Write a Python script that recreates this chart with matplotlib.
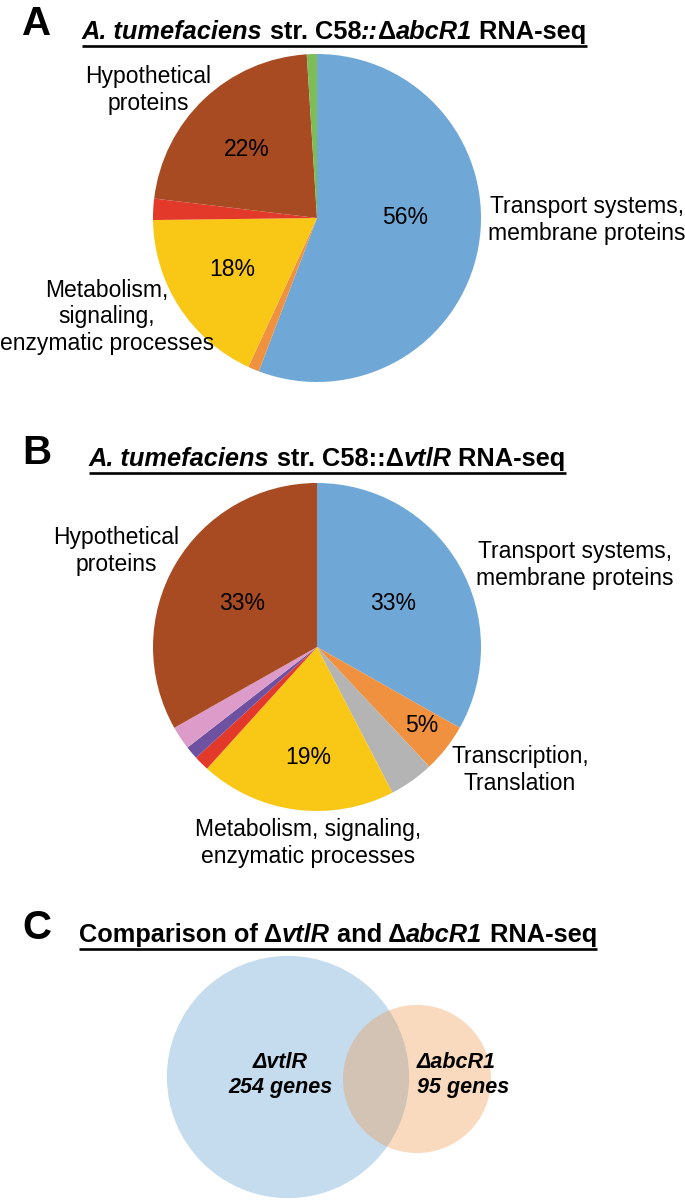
import matplotlib
matplotlib.use("Agg")
import matplotlib.pyplot as plt
from matplotlib.patches import Circle
import numpy as np

plt.rcParams['font.family'] = ['Liberation Sans', 'DejaVu Sans']

# panel A: C58::deltaabcR1, clockwise from 12 o'clock
a_values = [56, 1.1, 18, 2.1, 22.2, 1.0]
a_colors = ["#6FA8D6", "#F0913F", "#F9C716", "#E3392A", "#A84A22", "#7DBD58"]
a_show = [True, False, True, False, True, False]

# panel B: C58::deltavtlR
b_values = [33.2, 4.8, 4.4, 19.3, 1.5, 1.3, 2.3, 33.2]
b_colors = ["#6FA8D6", "#F0913F", "#B4B4B4", "#F9C716", "#E3392A",
            "#6E51A0", "#DC9BC9", "#A84A22"]
b_show = [True, True, False, True, False, False, False, True]

# panel C: venn
venn_names = ["\u0394vtlR", "\u0394abcR1"]
venn_counts = [254, 95]
venn_colors = ["#6FA8D6", "#F0913F"]

H = 1200
def P(x, y):
    return (x, H - y)

fig = plt.figure(figsize=(6.85, 12), dpi=100)
ax = fig.add_axes([0, 0, 1, 1])

def draw_pie(vals, cols, show, center, r, pct_pos):
    ax.pie(vals, colors=cols, startangle=90, counterclock=False,
           center=P(*center), radius=r, wedgeprops=dict(linewidth=0))
    k = 0
    for v, s in zip(vals, show):
        if s:
            ax.text(*P(*pct_pos[k]), f"{round(v)}%", fontsize=16.5,
                    ha='center', va='center')
            k += 1

draw_pie(a_values, a_colors, a_show, (317, 218), 164,
         [(405, 218), (232, 270), (247, 150)])
draw_pie(b_values, b_colors, b_show, (317, 647), 164,
         [(393, 603), (422, 725), (308, 757), (242, 603)])

# category labels
lab = dict(fontsize=16.5, ha='center', va='center', multialignment='center')
ax.text(*P(148, 90), "Hypothetical\nproteins", **lab)
ax.text(*P(587, 220), "Transport systems,\nmembrane proteins", **lab)
ax.text(*P(107, 317), "Metabolism,\nsignaling,\nenzymatic processes", **lab)
ax.text(*P(116, 551), "Hypothetical\nproteins", **lab)
ax.text(*P(575, 565), "Transport systems,\nmembrane proteins", **lab)
ax.text(*P(520, 770), "Transcription,\nTranslation", **lab)
ax.text(*P(308, 843), "Metabolism, signaling,\nenzymatic processes", **lab)

# venn circles, area ~ gene count
k = 7.6
alphas = [0.4, 0.33]
centers = [(288, 1077), (417, 1079)]
for n, c, a, cen in zip(venn_counts, venn_colors, alphas, centers):
    ax.add_patch(Circle(P(*cen), k * np.sqrt(n), facecolor=c, alpha=a, lw=0))

vt = dict(fontsize=15.5, fontweight='bold', fontstyle='italic', va='center',
          linespacing=1.3)
ax.text(*P(280, 1075), f"{venn_names[0]}\n{venn_counts[0]} genes",
        ha='center', multialignment='center', **vt)
ax.text(*P(417, 1075), f"{venn_names[1]}\n{venn_counts[1]} genes",
        ha='left', multialignment='left', **vt)

ax.set_xlim(0, 685)
ax.set_ylim(0, H)
ax.set_aspect('equal')
ax.axis('off')

# titles with mixed italic parts, underlined
renderer = fig.canvas.get_renderer()
inv = ax.transData.inverted()

def title(x, y, parts, size=18.3):
    x0 = x
    for s, st in parts:
        t = ax.text(*P(x, y), s, fontsize=size, fontweight='bold',
                    fontstyle=st, ha='left', va='baseline')
        bb = t.get_window_extent(renderer=renderer)
        x = inv.transform((bb.x1, bb.y0))[0]
    ax.plot([x0, x], [H - y - 7, H - y - 7], color='black', lw=1.9,
            solid_capstyle='butt')

title(82, 39, [("A. tumefaciens", 'italic'), (" str. C58", 'normal'),
               ("::", 'italic'), ("\u0394", 'normal'), ("abcR1", 'italic'),
               (" RNA-seq", 'normal')])
title(89, 466, [("A. tumefaciens", 'italic'), (" str. C58::\u0394", 'normal'),
                ("vtlR", 'italic'), (" RNA-seq", 'normal')])
title(79, 942, [("Comparison of \u0394", 'normal'), ("vtlR", 'italic'),
                (" and \u0394", 'normal'), ("abcR1", 'italic'),
                (" RNA-seq", 'normal')])

for letter, y in [("A", 35), ("B", 464), ("C", 939)]:
    ax.text(*P(22, y), letter, fontsize=29, fontweight='bold',
            ha='left', va='baseline')

fig.savefig("out.png", dpi=100)
